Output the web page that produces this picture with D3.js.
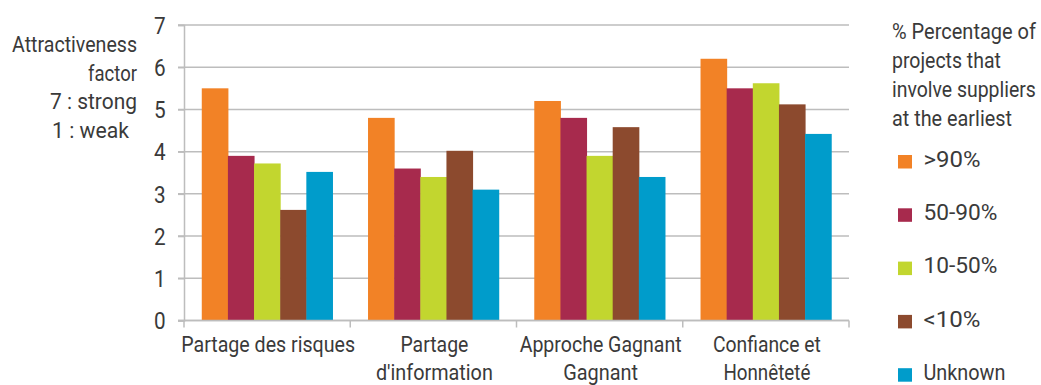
<!DOCTYPE html>
<html>
<head>
<meta charset="utf-8">
<script src="https://cdn.jsdelivr.net/npm/d3@7"></script>
<style>
  html, body { margin: 0; padding: 0; background: #fff; }
  svg text { font-family: "Roboto", "Liberation Sans", sans-serif; fill: #3a3a3a; }
</style>
</head>
<body>
<svg id="chart" width="1041" height="385"></svg>
<script>
// Attractiveness factor (1 = weak, 7 = strong) by practice and supplier-involvement share
const categories = [
  ["Partage des risques"],
  ["Partage", "d'information"],
  ["Approche Gagnant", "Gagnant"],
  ["Confiance et", "Honnêteté"]
];
const seriesNames = [">90%", "50-90%", "10-50%", "<10%", "Unknown"];
const seriesColors = ["#f28226", "#a72a4d", "#c2d62f", "#8c4a2e", "#009ccb"];
const over90 = [5.5, 4.8, 5.2, 6.2];
const from50to90 = [3.9, 3.6, 4.8, 5.5];
const from10to50 = [3.72, 3.4, 3.9, 5.62];
const under10 = [2.62, 4.02, 4.58, 5.12];
const unknown = [3.52, 3.1, 3.4, 4.42];
const yTicks = [0, 1, 2, 3, 4, 5, 6, 7];
const yTitle = ["Attractiveness", "factor", "7 : strong", "1 : weak"];
const legendTitle = ["% Percentage of", "projects that", "involve suppliers", "at the earliest"];

const series = [over90, from50to90, from10to50, under10, unknown];

// Typeset widths for the condensed label face (px)
const catLineWidths = [[174], [68, 117], [162, 75], [108, 87]];
const yTitleWidths = [125, 49, 87, 77];
const legendTitleWidths = [144, 109, 144, 120];
const legendItemWidths = [57, 74, 74, 57, 82];

const FONT = 22;
const GRID = "#bdbdbd";

const svg = d3.select("#chart");
const plot = { left: 184, right: 849, top: 25, bottom: 320.5 };

// one condensed text line at (x, y), squeezed horizontally to a set width
function label(parent, str, x, yPos, anchor, width) {
  const t = parent.append("text")
    .attr("text-anchor", anchor || "start")
    .attr("font-size", FONT)
    .text(str);
  const natural = t.node().getComputedTextLength() || width;
  const sx = width ? width / natural : 1;
  t.attr("transform", `translate(${x},${yPos}) scale(${sx},1)`);
  return t;
}

const x0 = d3.scaleBand()
  .domain(d3.range(categories.length))
  .range([plot.left, plot.right])
  .paddingInner(0).paddingOuter(0);
const x1 = d3.scaleBand()
  .domain(d3.range(series.length))
  .range([0, x0.bandwidth()])
  .paddingOuter(0.68).paddingInner(0);
const y = d3.scaleLinear().domain([0, 7]).range([plot.bottom, plot.top]);

// horizontal gridlines
svg.append("g")
  .selectAll("line")
  .data(yTicks)
  .join("line")
  .attr("x1", plot.left - 6).attr("x2", plot.right)
  .attr("y1", d => y(d)).attr("y2", d => y(d))
  .attr("stroke", GRID).attr("stroke-width", 1.5);

// y axis
const yAxis = svg.append("g")
  .attr("transform", `translate(${plot.left},0)`)
  .call(d3.axisLeft(y).tickValues(yTicks).tickSize(6).tickFormat(d3.format("d")));
yAxis.select(".domain").attr("stroke", GRID).attr("stroke-width", 1.5);
yAxis.selectAll(".tick line").attr("stroke", GRID).attr("stroke-width", 1.5);
yAxis.selectAll(".tick text")
  .attr("font-size", 23)
  .attr("font-family", null)
  .attr("x", null).attr("dy", null)
  .attr("fill", null)
  .attr("transform", "translate(-18.3,8.2) scale(0.9,1)");

// bars
const groups = svg.append("g")
  .selectAll("g")
  .data(categories.map((c, i) => i))
  .join("g")
  .attr("transform", i => `translate(${x0(i)},0)`);
groups.selectAll("rect")
  .data(i => series.map((s, k) => ({ k, v: s[i] })))
  .join("rect")
  .attr("x", d => x1(d.k))
  .attr("width", x1.bandwidth() + 0.5)
  .attr("y", d => y(d.v))
  .attr("height", d => y(0) - y(d.v))
  .attr("fill", d => seriesColors[d.k]);

// x axis with ticks at category boundaries
const xg = svg.append("g");
xg.append("line")
  .attr("x1", plot.left - 6).attr("x2", plot.right)
  .attr("y1", y(0)).attr("y2", y(0))
  .attr("stroke", GRID).attr("stroke-width", 1.5);
const bounds = d3.range(categories.length + 1)
  .map(i => i < categories.length ? x0(i) : x0(i - 1) + x0.bandwidth());
xg.selectAll("line.tick")
  .data(bounds)
  .join("line")
  .attr("class", "tick")
  .attr("x1", d => d).attr("x2", d => d)
  .attr("y1", y(0)).attr("y2", y(0) + 7)
  .attr("stroke", GRID).attr("stroke-width", 1.5);
categories.forEach((lines, i) => {
  const cx = x0(i) + x0.bandwidth() / 2 + 1;
  lines.forEach((ln, j) => label(xg, ln, cx, 351.7 + j * 28, "middle", catLineWidths[i][j]));
});

// y title
const yt = svg.append("g");
yTitle.forEach((ln, i) => {
  if (i === 3) label(yt, ln, 52, 52 + i * 28.6, "start", yTitleWidths[i]);
  else label(yt, ln, 137, 52 + i * 28.6, "end", yTitleWidths[i]);
});

// legend
const lg = svg.append("g");
legendTitle.forEach((ln, i) => label(lg, ln, 892, 39 + i * 29.1, "start", legendTitleWidths[i]));
seriesNames.forEach((name, i) => {
  const top = 155 + i * 53.3;
  lg.append("rect")
    .attr("x", 898).attr("y", top)
    .attr("width", 14).attr("height", 13.5)
    .attr("fill", seriesColors[i]);
  label(lg, name, 923.5, top + 11.8, "start", legendItemWidths[i]);
});
</script>
</body>
</html>
